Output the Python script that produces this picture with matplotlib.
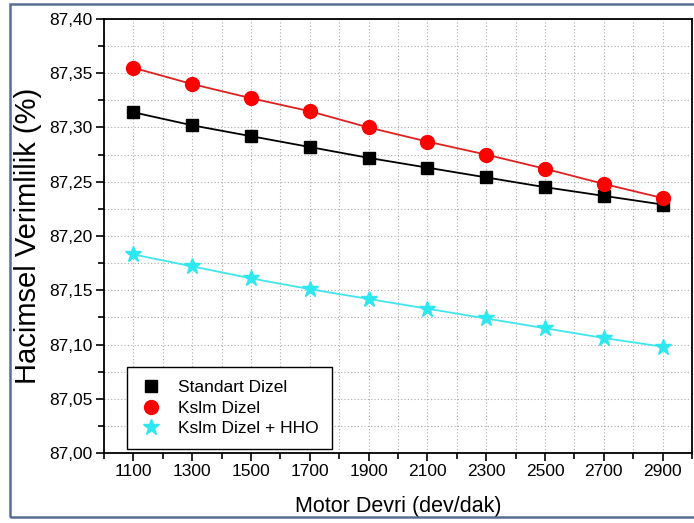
import matplotlib
matplotlib.use("Agg")
import matplotlib.pyplot as plt
from matplotlib.lines import Line2D
from matplotlib.patches import Rectangle
from matplotlib.ticker import MultipleLocator, FuncFormatter

plt.rcParams['font.family'] = ['Liberation Sans', 'DejaVu Sans']

# engine speed (dev/dak)
devir = [1100, 1300, 1500, 1700, 1900, 2100, 2300, 2500, 2700, 2900]

# volumetric efficiency (%)
standart = [87.314, 87.302, 87.292, 87.282, 87.272, 87.263, 87.254, 87.245, 87.237, 87.229]
kslm = [87.355, 87.340, 87.327, 87.315, 87.300, 87.287, 87.275, 87.262, 87.248, 87.235]
kslm_hho = [87.183, 87.172, 87.161, 87.151, 87.142, 87.133, 87.124, 87.115, 87.106, 87.098]

labels = ['Standart Dizel', 'Kslm Dizel', 'Kslm Dizel + HHO']

fig = plt.figure(figsize=(6.94, 5.23), dpi=100)
ax = fig.add_axes([0.1499, 0.1338, 0.8472, 0.8299])

# outer frame round the whole picture
frame = Rectangle((10/694, 6/523), 690/694, 513/523, transform=fig.transFigure,
                  fill=False, edgecolor='#566e92', linewidth=1.8, zorder=0)
fig.patches.append(frame)

ax.plot(devir, standart, color='black', lw=1.3, marker='s', ms=8.5, zorder=3)
ax.plot(devir, kslm, color='#e02020', lw=1.3, marker='o', ms=10,
        mfc='#ff0000', mec='#ff0000', zorder=3)
ax.plot(devir, kslm_hho, color='#3fe6ee', lw=1.3, marker='*', ms=12,
        mfc='#2ee8f0', mec='#2ee8f0', zorder=3)

ax.set_xlim(1000, 3000)
ax.set_ylim(87.0, 87.4)
ax.xaxis.set_major_locator(MultipleLocator(200))
ax.xaxis.set_minor_locator(MultipleLocator(100))
ax.yaxis.set_major_locator(MultipleLocator(0.05))
ax.yaxis.set_minor_locator(MultipleLocator(0.025))
ax.set_xticks(devir)
ax.yaxis.set_major_formatter(FuncFormatter(lambda v, p: f"{v:.2f}".replace('.', ',')))

ax.grid(True, which='both', color='#aaaaaa', linestyle=(0, (1, 2)), linewidth=0.8)
ax.tick_params(which='major', direction='out', length=6, width=1.2, labelsize=12.5, pad=2)
ax.tick_params(which='minor', direction='out', length=4, width=1.2)
for s in ax.spines.values():
    s.set_linewidth(1.3)

ax.set_xlabel('Motor Devri (dev/dak)', fontsize=15.5, labelpad=12)
ax.set_ylabel('Hacimsel Verimlilik (%)', fontsize=21, labelpad=5)

handles = [
    Line2D([], [], color='black', marker='s', ls='', ms=8.5),
    Line2D([], [], color='#ff0000', marker='o', ls='', ms=10),
    Line2D([], [], color='#2ee8f0', marker='*', ls='', ms=12),
]
leg = ax.legend(handles, labels, loc='lower left', bbox_to_anchor=(0.039, 0.009),
                borderaxespad=0, fontsize=12.5, frameon=True, fancybox=False,
                edgecolor='black', framealpha=1, borderpad=0.75, handletextpad=0.9,
                labelspacing=0.3, handlelength=1.3)
leg.get_frame().set_linewidth(1.0)

fig.savefig('out.png', dpi=100)
